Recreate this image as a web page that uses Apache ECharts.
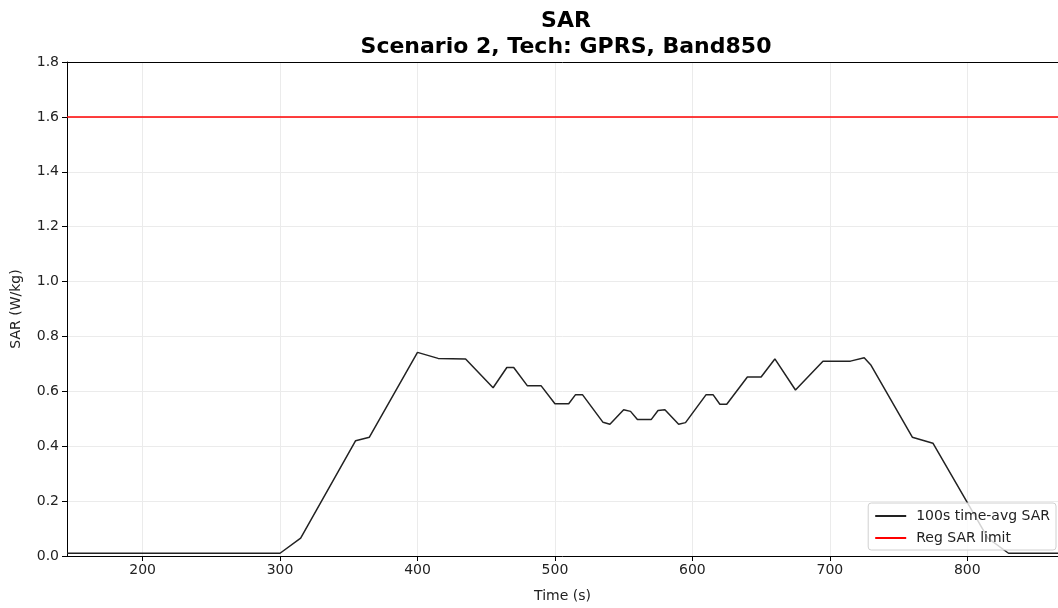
<!DOCTYPE html>
<html>
<head>
<meta charset="utf-8">
<script src="https://cdn.jsdelivr.net/npm/echarts@6/dist/echarts.min.js"></script>
<style>
  html, body { margin: 0; padding: 0; background: #fff; }
  #chart { width: 1058px; height: 608px; }
</style>
</head>
<body>
<div id="chart"></div>
<script>
  // time axis (s) and 100s time-averaged SAR
  var timeSec = [145, 300, 315, 355, 365, 400, 415, 435, 455, 465, 470, 480, 490, 500, 510, 515, 520,
    535, 540, 550, 555, 560, 570, 575, 580, 590, 595, 610, 615, 620, 625, 640, 650, 660, 675,
    695, 715, 725, 730, 760, 775, 815, 830, 866];
  var avgSar = [0.01, 0.01, 0.065, 0.42, 0.433, 0.742, 0.72, 0.718, 0.613, 0.687, 0.687, 0.62, 0.62, 0.555, 0.555, 0.588, 0.588,
    0.487, 0.48, 0.533, 0.527, 0.497, 0.497, 0.53, 0.533, 0.48, 0.486, 0.588, 0.588, 0.553, 0.553, 0.652, 0.652, 0.718, 0.605,
    0.71, 0.71, 0.722, 0.695, 0.433, 0.411, 0.065, 0.01, 0.01];
  // regulatory limit
  var limitTime = [145, 866];
  var limitSar = [1.6, 1.6];
  var xTicks = [200, 300, 400, 500, 600, 700, 800];

  var font = 'DejaVu Sans';
  var myChart = echarts.init(document.getElementById('chart'));

  var option = {
    animation: false,
    title: {
      text: 'SAR\nScenario 2, Tech: GPRS, Band850',
      left: 561,
      textAlign: 'center',
      top: 3,
      textStyle: {
        fontFamily: font,
        fontSize: 22,
        fontWeight: 'bold',
        color: '#000',
        lineHeight: 26
      }
    },
    grid: {
      left: 67,
      top: 62,
      right: 0,
      bottom: 51,
      show: false
    },
    legend: {
      orient: 'vertical',
      right: 2,
      bottom: 58,
      itemWidth: 31,
      itemHeight: 2,
      itemGap: 8,
      padding: [6, 6, 5, 7],
      backgroundColor: 'rgba(255,255,255,0.8)',
      borderColor: '#d0d0d0',
      borderWidth: 1,
      borderRadius: 3,
      icon: 'rect',
      textStyle: { fontFamily: font, fontSize: 14, color: '#222', padding: [0, 0, 0, 5] },
      data: ['100s time-avg SAR', 'Reg SAR limit']
    },
    xAxis: [{
      type: 'value',
      min: 145,
      max: 866,
      name: 'Time (s)',
      nameLocation: 'middle',
      nameGap: 33,
      nameTextStyle: { fontFamily: font, fontSize: 14, color: '#222' },
      axisLine: { show: true, lineStyle: { color: '#000', width: 1 } },
      axisTick: { show: true, length: 5, customValues: xTicks, lineStyle: { color: '#000' } },
      axisLabel: { customValues: xTicks, fontFamily: font, fontSize: 14, color: '#222', margin: 7 },
      splitLine: { show: true, lineStyle: { color: '#ebebeb', width: 1 } }
    }, {
      // top spine only
      type: 'value',
      position: 'top',
      min: 145,
      max: 866,
      axisLine: { show: true, onZero: false, lineStyle: { color: '#000', width: 1 } },
      axisTick: { show: false },
      axisLabel: { show: false },
      splitLine: { show: false }
    }],
    yAxis: {
      type: 'value',
      min: 0,
      max: 1.8,
      interval: 0.2,
      name: 'SAR (W/kg)',
      nameLocation: 'middle',
      nameGap: 44,
      nameTextStyle: { fontFamily: font, fontSize: 14, color: '#222' },
      axisLine: { show: true, lineStyle: { color: '#000', width: 1 } },
      axisTick: { show: true, length: 5, lineStyle: { color: '#000' } },
      axisLabel: {
        fontFamily: font, fontSize: 14, color: '#222', margin: 8,
        formatter: function (v) { return v.toFixed(1); }
      },
      splitLine: { show: true, lineStyle: { color: '#ebebeb', width: 1 } }
    },
    series: [
      {
        name: '100s time-avg SAR',
        type: 'line',
        showSymbol: false,
        symbol: 'none',
        color: '#222',
        lineStyle: { color: '#222', width: 1.5 },
        data: timeSec.map(function (t, i) { return [t, avgSar[i]]; })
      },
      {
        name: 'Reg SAR limit',
        type: 'line',
        showSymbol: false,
        symbol: 'none',
        color: '#ff0000',
        lineStyle: { color: '#ff0000', width: 1.5 },
        data: limitTime.map(function (t, i) { return [t, limitSar[i]]; })
      }
    ]
  };
  myChart.setOption(option, true);
</script>
</body>
</html>
